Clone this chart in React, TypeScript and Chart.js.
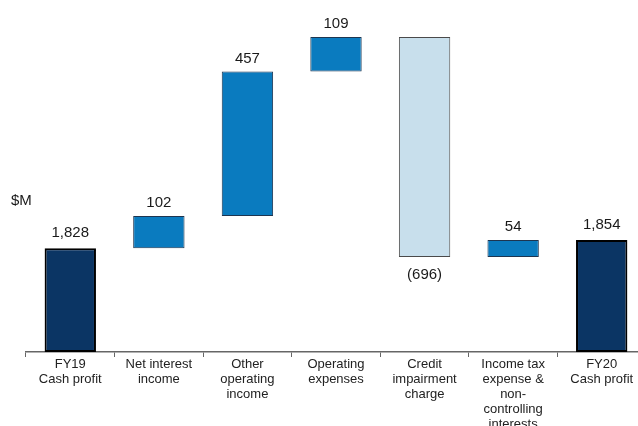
import React, { useEffect, useRef } from "react";
import { Chart, registerables } from "chart.js";

Chart.register(...registerables);

const categories: string[][] = [
  ["FY19", "Cash profit"],
  ["Net interest", "income"],
  ["Other", "operating", "income"],
  ["Operating", "expenses"],
  ["Credit", "impairment", "charge"],
  ["Income tax", "expense &", "non-", "controlling", "interests"],
  ["FY20", "Cash profit"],
];
const startValue = 1828;
const deltas = [102, 457, 109, -696, 54];
const endValue = 1854;
const valueLabels = ["1,828", "102", "457", "109", "(696)", "54", "1,854"];
const axisMin = 1500;
const axisMax = 2600;

const NAVY = "#0b3564";
const BLUE = "#0a7bbf";
const LIGHT = "#c8dfec";

export default function App() {
  const ref = useRef<HTMLCanvasElement | null>(null);

  useEffect(() => {
    if (!ref.current) return;
    // build floating bars
    const ranges: [number, number][] = [];
    const kinds: string[] = [];
    ranges.push([axisMin, startValue]);
    kinds.push("total");
    let cum = startValue;
    deltas.forEach((d) => {
      const next = cum + d;
      ranges.push([Math.min(cum, next), Math.max(cum, next)]);
      kinds.push(d >= 0 ? "up" : "down");
      cum = next;
    });
    ranges.push([axisMin, endValue]);
    kinds.push("total");

    const bg = kinds.map((k) => (k === "total" ? NAVY : k === "up" ? BLUE : LIGHT));
    const bc = kinds.map((k) => (k === "total" ? "#000000" : k === "up" ? "#1d3550" : "#4a4a4a"));
    const bw = kinds.map((k) => (k === "total" ? 2 : 1));

    const labelPlugin = {
      id: "valueLabels",
      afterDatasetsDraw(chart: any) {
        const { ctx, scales } = chart;
        const y = scales.y;
        const x = scales.x;
        ctx.save();
        ctx.font = "15px 'Liberation Sans', Arial, sans-serif";
        ctx.fillStyle = "#1a1a1a";
        ctx.textAlign = "center";
        ctx.textBaseline = "middle";
        ranges.forEach((r, i) => {
          const cx = x.getPixelForValue(i);
          if (kinds[i] === "down") {
            ctx.fillText(valueLabels[i], cx, y.getPixelForValue(r[0]) + 18);
          } else {
            const off = kinds[i] === "total" ? 15 : 13;
            ctx.fillText(valueLabels[i], cx, y.getPixelForValue(r[1]) - off);
          }
        });
        ctx.restore();
      },
    };

    const chart = new Chart(ref.current, {
      type: "bar",
      data: {
        labels: categories,
        datasets: [
          {
            data: ranges as any,
            backgroundColor: bg,
            borderColor: bc,
            borderWidth: bw,
            borderSkipped: false,
            barPercentage: 0.58,
            categoryPercentage: 1,
          },
        ],
      },
      options: {
        animation: false,
        responsive: false,
        devicePixelRatio: 1,
        layout: { padding: { left: 26, right: 0, top: 4, bottom: 0 } },
        plugins: { legend: { display: false }, tooltip: { enabled: false } },
        scales: {
          x: {
            grid: {
              offset: true,
              drawOnChartArea: false,
              drawTicks: true,
              tickLength: 5,
              color: "#666666",
              lineWidth: 1,
            },
            border: { display: true, color: "#666666", width: 1.5 },
            ticks: {
              color: "#222222",
              font: { family: "'Liberation Sans', Arial, sans-serif", size: 13, lineHeight: 1.15 },
              padding: 0,
              maxRotation: 0,
              autoSkip: false,
            },
            afterFit: (scale: any) => {
              scale.height = 88;
            },
          },
          y: {
            display: false,
            min: axisMin,
            max: axisMax,
          },
        },
      },
      plugins: [labelPlugin],
    });
    return () => chart.destroy();
  }, []);

  return (
    <div
      style={{
        position: "fixed",
        left: 0,
        top: 0,
        width: 638,
        height: 426,
        overflow: "hidden",
        background: "#ffffff",
      }}
    >
      <canvas ref={ref} width={646} height={440} style={{ display: "block" }} />
      <div
        style={{
          position: "absolute",
          left: 11,
          top: 191,
          font: "15px 'Liberation Sans', Arial, sans-serif",
          color: "#1a1a1a",
          lineHeight: "18px",
        }}
      >
        $M
      </div>
    </div>
  );
}
